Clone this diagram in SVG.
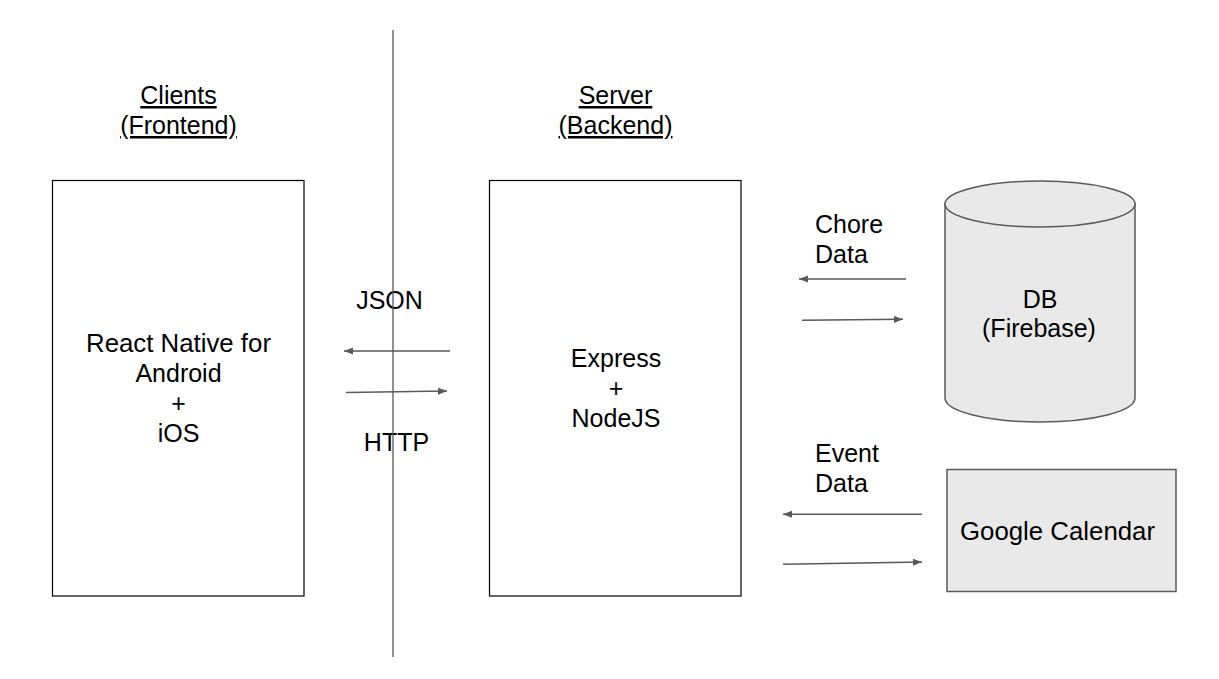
<svg xmlns="http://www.w3.org/2000/svg" width="1219" height="679" viewBox="0 0 1219 679">
<style>
text{font-family:"Liberation Sans",Arial,sans-serif;font-size:25px;fill:#000}
.c{text-anchor:middle}
.u{text-decoration:underline}
.box{fill:#fff;stroke:#000;stroke-width:1.2}
.gray{fill:#e9e9e9;stroke:#5a5a5a;stroke-width:1.5}
.arr{stroke:#595959;stroke-width:1.4;fill:none;marker-end:url(#ah)}
</style>
<defs>
<marker id="ah" markerUnits="userSpaceOnUse" markerWidth="10" markerHeight="8" refX="9" refY="3.5" orient="auto">
<path d="M0,0 L9,3.5 L0,7 z" fill="#595959"/>
</marker>
</defs>
<rect width="1219" height="679" fill="#fff"/>
<g id="clients-header">
<text class="c u" x="178.5" y="104">Clients</text>
<text class="c u" x="178.5" y="134">(Frontend)</text>
</g>
<g id="server-header">
<text class="c u" x="615.5" y="104">Server</text>
<text class="c u" x="615.5" y="134">(Backend)</text>
</g>
<g id="clients">
<rect class="box" x="52.5" y="180.5" width="251.5" height="415.5"/>
<text class="c" x="178.5" y="352" textLength="185" lengthAdjust="spacingAndGlyphs">React Native for</text>
<text class="c" x="178.5" y="382">Android</text>
<text class="c" x="178.5" y="412">+</text>
<text class="c" x="178.5" y="442">iOS</text>
</g>
<g id="server">
<rect class="box" x="489.5" y="180.5" width="251.5" height="415.5"/>
<text class="c" x="616" y="366.5">Express</text>
<text class="c" x="616" y="396.5">+</text>
<text class="c" x="616" y="426.5">NodeJS</text>
</g>
<g id="db">
<path class="gray" d="M945,204 L945,398 A95,24 0 0 0 1135,398 L1135,204 Z"/>
<ellipse class="gray" cx="1040" cy="204" rx="95" ry="23"/>
<text class="c" x="1040" y="308">DB</text>
<text class="c" x="1039" y="337">(Firebase)</text>
</g>
<g id="gcal">
<rect class="gray" x="947" y="469.5" width="229" height="122"/>
<text class="c" x="1057.5" y="540" textLength="195" lengthAdjust="spacingAndGlyphs">Google Calendar</text>
</g>
<g id="connectors">
<line class="arr" x1="450" y1="351" x2="344" y2="351"/>
<line class="arr" x1="346" y1="392.5" x2="447" y2="391"/>
<line class="arr" x1="906" y1="279" x2="799" y2="279"/>
<line class="arr" x1="802" y1="320.3" x2="903" y2="319.3"/>
<line class="arr" x1="922" y1="514.3" x2="783" y2="514.3"/>
<line class="arr" x1="783" y1="564.3" x2="922" y2="562"/>
</g>
<g id="labels">
<text class="c" x="389.5" y="309">JSON</text>
<text class="c" x="396.5" y="451">HTTP</text>
<text x="815" y="233">Chore</text>
<text x="815" y="263">Data</text>
<text x="815" y="462">Event</text>
<text x="815" y="492">Data</text>
</g>
<g id="divider"><line x1="393" y1="30" x2="393" y2="657" stroke="#555" stroke-width="1.3"/></g>
</svg>
